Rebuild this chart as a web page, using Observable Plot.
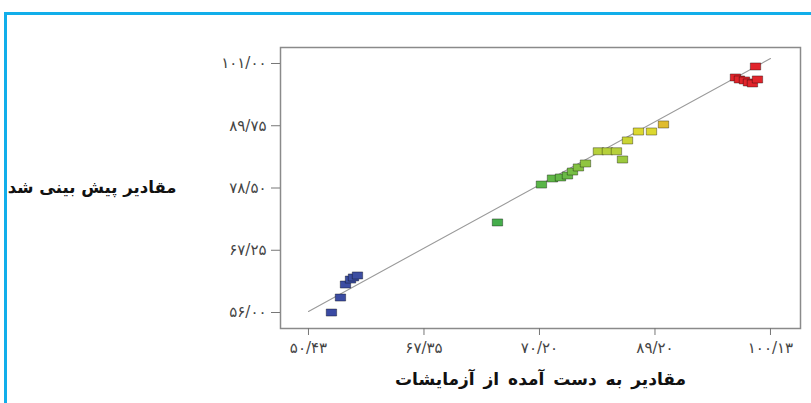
<!DOCTYPE html>
<html>
<head>
<meta charset="utf-8">
<script src="https://cdn.jsdelivr.net/npm/d3@7"></script>
<script src="https://cdn.jsdelivr.net/npm/@observablehq/plot@0.6"></script>
<style>
  html, body { margin: 0; padding: 0; background: #fff; }
  #wrap { position: relative; width: 811px; height: 403px; overflow: hidden; }
  #border { position: absolute; left: 4px; top: 12px; right: -10px; bottom: -10px;
            border-top: 3px solid #12aeea; border-left: 3px solid #12aeea; pointer-events: none; }
  svg { font-family: "DejaVu Sans", sans-serif; }
  .xtitle text { word-spacing: 3px; }
</style>
</head>
<body>
<div id="wrap"><div id="border"></div></div>
<script>
// Measured (x) vs predicted (y) values
const measured = [
  52.90, 53.87, 54.41, 54.95, 55.27, 55.70,
  70.76,
  75.49, 76.68, 77.54, 78.29, 78.83, 79.47, 80.23,
  81.62, 82.59, 83.56, 84.21, 84.75, 85.93, 87.33, 88.62,
  98.52, 96.36, 96.79, 97.33, 97.76, 98.19, 98.73
];
const predicted = [
  56.00, 58.71, 61.06, 61.96, 62.33, 62.69,
  72.27,
  79.13, 80.22, 80.40, 80.76, 81.48, 82.21, 82.93,
  85.14, 85.14, 85.14, 83.65, 87.09, 88.71, 88.71, 89.98,
  100.46, 98.47, 98.11, 97.93, 97.57, 97.39, 98.11
];
// Fitted line end points
const fitX = [50.43, 100.13];
const fitY = [56.2, 101.9];

// Tick values and their printed labels
const xTicks = [50.43, 62.855, 75.28, 87.705, 100.13];
const xLabels = ["۵۰/۴۳", "۶۷/۳۵", "۷۰/۲۰", "۸۹/۲۰", "۱۰۰/۱۳"];
const yTicks = [56, 67.25, 78.5, 89.75, 101];
const yLabels = ["۵۶/۰۰", "۶۷/۲۵", "۷۸/۵۰", "۸۹/۷۵", "۱۰۱/۰۰"];

const xTitle = "مقادیر به دست آمده از آزمایشات";
const yTitle = "مقادیر پیش بینی شد";

const points = measured.map((x, i) => ({x, y: predicted[i]}));
const fit = fitX.map((x, i) => ({x, y: fitY[i]}));

const rectSymbol = {
  draw(context, size) {
    const s = Math.sqrt(size);
    const w = s * 1.4, h = s * 0.95;
    context.rect(-w / 2, -h / 2, w, h);
  }
};

const chart = Plot.plot({
  width: 811,
  height: 403,
  marginLeft: 280,
  marginRight: 11,
  marginTop: 47,
  marginBottom: 75,
  style: {fontFamily: "DejaVu Sans, sans-serif", background: "transparent"},
  x: {domain: [47.42, 103.36]},
  y: {domain: [53.11, 103.89]},
  color: {
    type: "linear",
    domain: [56, 64, 72, 80, 85, 89, 95, 101],
    range: ["#3a4aa3", "#3d4fa1", "#44ad4b", "#5cb648", "#b4d03a", "#dfd92f", "#e1242b", "#e1242b"]
  },
  marks: [
    Plot.frame({stroke: "#8a8a8a", strokeWidth: 1.5}),
    Plot.axisX({
      ticks: xTicks,
      tickFormat: d => xLabels[xTicks.indexOf(d)],
      tickSize: 7, tickPadding: 7, label: null,
      fontSize: 15, fill: "#444", stroke: "#777"
    }),
    Plot.axisY({
      ticks: yTicks,
      tickFormat: d => yLabels[yTicks.indexOf(d)],
      tickSize: 9, tickPadding: 5, label: null,
      fontSize: 15, fill: "#444", stroke: "#777"
    }),
    Plot.line(fit, {x: "x", y: "y", stroke: "#9a9a9a", strokeWidth: 1.1}),
    Plot.dot(points, {
      x: "x", y: "y", fill: "y", r: 4.2, symbol: rectSymbol,
      stroke: "#000", strokeOpacity: 0.45, strokeWidth: 0.8
    }),
    Plot.text([yTitle], {
      frameAnchor: "left", dx: -104, textAnchor: "end",
      fontSize: 16.5, fontWeight: "bold", fill: "#111"
    }),
    Plot.text([xTitle], {
      frameAnchor: "bottom", dy: 56,
      fontSize: 17, fontWeight: "bold", fill: "#111", className: "xtitle"
    })
  ]
});
document.getElementById("wrap").prepend(chart);
</script>
</body>
</html>
